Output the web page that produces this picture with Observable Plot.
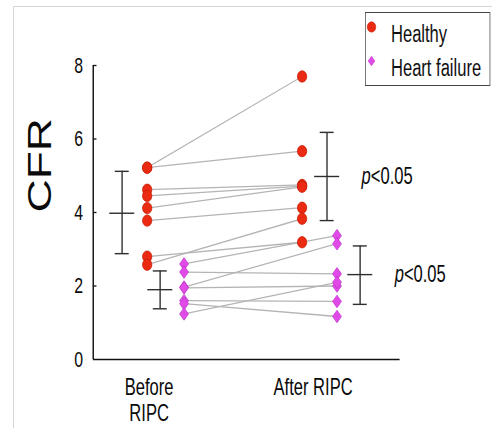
<!DOCTYPE html>
<html><head><meta charset="utf-8">
<script src="https://cdn.jsdelivr.net/npm/d3@7"></script>
<script src="https://cdn.jsdelivr.net/npm/@observablehq/plot@0.6"></script>
<style>
html,body{margin:0;padding:0;background:#fff;}
#page{position:relative;width:492px;height:428px;overflow:hidden;background:#fff;}
#frame{position:absolute;left:13px;top:6px;width:490px;height:430px;border-left:1.5px solid #d6d6d6;border-top:1.5px solid #d6d6d6;}
#stage{position:absolute;left:0;top:0;width:683px;height:428px;transform:scaleX(0.72);transform-origin:0 0;}
#stage svg{position:absolute;left:0;top:0;}
#legend{position:absolute;left:507px;top:12px;width:172px;height:72px;border:1.4px solid #444;background:#fff;font-family:"Liberation Sans",Arial,sans-serif;font-size:23px;color:#111;}
.lrow{position:absolute;left:0;height:30px;line-height:30px;white-space:nowrap;}
.lrow svg{position:absolute;left:8px;top:7px;}
.lrow span{position:absolute;left:35px;top:0;}
</style>
</head><body>
<div id="page">
  <div id="frame"></div>
  <div id="stage"><div id="legend"></div></div>
</div>
<script>
// ---- data ----
const phases = ["Before RIPC", "After RIPC"];
const phaseLabels = ["Before\nRIPC", "After RIPC"];
const groups = ["Healthy", "Heart failure"];
const groupColors = ["#ea2a12", "#e04ae6"];
const groupStrokes = ["#c81e08", "#c232cc"];

const healthyBefore = [5.22, 5.22, 4.62, 4.45, 4.12, 3.78, 2.80, 2.58];
const healthyAfter  = [7.70, 5.67, 4.75, 4.72, 4.70, 4.13, 3.19, 3.83];
const hfBefore = [2.60, 2.38, 1.97, 1.95, 1.60, 1.52, 1.24];
const hfAfter  = [3.37, 2.33, 3.15, 2.00, 1.58, 1.17, 2.10];

// mean and spread bars (Before, After)
const healthyMean = [3.98, 4.98];
const healthyLow  = [2.88, 3.78];
const healthyHigh = [5.12, 6.18];
const hfMean = [1.90, 2.31];
const hfLow  = [1.38, 1.50];
const hfHigh = [2.41, 3.09];

const pLabels = ["p<0.05", "p<0.05"]; // after RIPC, Healthy / Heart failure

const yTicks = [0, 2, 4, 6, 8];

// ---- layout (not data) ----
const SX = 0.72;                 // horizontal squeeze of the original figure
const W = 683, H = 428;
const xDomain = [0.659, 2.53];
const pointOffset = {"Healthy": [-0.012, -0.067], "Heart failure": [0.213, 0.146]};
const barOffset   = {"Healthy": [-0.165, 0.085], "Heart failure": [0.067, 0.287]};
const font = '"Liberation Sans", Arial, Helvetica, sans-serif';

// ---- build tables ----
const pairs = [];
healthyBefore.forEach((v, i) => pairs.push({group: "Healthy", before: v, after: healthyAfter[i]}));
hfBefore.forEach((v, i) => pairs.push({group: "Heart failure", before: v, after: hfAfter[i]}));

const points = [];
pairs.forEach(p => {
  points.push({group: p.group, phase: 0, value: p.before});
  points.push({group: p.group, phase: 1, value: p.after});
});
const px = (g, ph) => ph + 1 + pointOffset[g][ph];

const bars = [];
[0, 1].forEach(ph => {
  bars.push({group: "Healthy", phase: ph, mean: healthyMean[ph], low: healthyLow[ph], high: healthyHigh[ph]});
  bars.push({group: "Heart failure", phase: ph, mean: hfMean[ph], low: hfLow[ph], high: hfHigh[ph]});
});
const bx = d => d.phase + 1 + barOffset[d.group][d.phase];
const pRows = bars.filter(d => d.phase === 1).map((d, i) => ({...d, label: pLabels[i]}));

// custom symbols (pre-squeeze shapes)
const ovalSym = {draw(ctx, size) {
  const r = Math.sqrt(size / Math.PI), rx = r * 1.14, ry = r, k = 0.5523;
  ctx.moveTo(rx, 0);
  ctx.bezierCurveTo(rx, ry * k, rx * k, ry, 0, ry);
  ctx.bezierCurveTo(-rx * k, ry, -rx, ry * k, -rx, 0);
  ctx.bezierCurveTo(-rx, -ry * k, -rx * k, -ry, 0, -ry);
  ctx.bezierCurveTo(rx * k, -ry, rx, -ry * k, rx, 0);
  ctx.closePath();
}};
const diamondSym = {draw(ctx, size) {
  const r = Math.sqrt(size / Math.PI), hw = r * 0.98, hh = r;
  ctx.moveTo(0, -hh); ctx.lineTo(hw, 0); ctx.lineTo(0, hh); ctx.lineTo(-hw, 0); ctx.closePath();
}};
const symFor = {"Healthy": ovalSym, "Heart failure": diamondSym};

const dotMarks = groups.map((g, gi) => Plot.dot(points.filter(d => d.group === g), {
  x: d => px(d.group, d.phase), y: "value",
  symbol: symFor[g], r: g === "Healthy" ? 5.7 : 6.3,
  fill: groupColors[gi], stroke: groupStrokes[gi], strokeWidth: 0.8
}));

const chart = Plot.plot({
  width: W, height: H,
  marginLeft: 129, marginRight: 128, marginTop: 65, marginBottom: 69,
  x: {domain: xDomain, axis: null},
  y: {domain: [0, 8], axis: null},
  style: {fontFamily: font, background: "transparent", color: "#111", overflow: "visible"},
  marks: [
    // axes
    Plot.ruleX([xDomain[0]], {y1: 0, y2: 8, stroke: "#111", strokeWidth: 2}),
    Plot.ruleY([0], {x1: xDomain[0], x2: xDomain[1], stroke: "#111", strokeWidth: 1.6}),
    Plot.ruleY(yTicks.filter(d => d > 0), {y: d => d, x1: xDomain[0], x2: xDomain[0], insetLeft: 0, insetRight: -5, stroke: "#111", strokeWidth: 1.3}),
    Plot.text(yTicks, {x: xDomain[0], y: d => d, text: d => String(d), textAnchor: "end", dx: -14, fontSize: 22, fill: "#0a0a0a"}),
    Plot.text(phaseLabels, {x: (d, i) => i + 1, y: 0, text: d => d, lineAnchor: "top", dy: 18, lineHeight: 1.1, fontSize: 23, fill: "#0a0a0a"}),
    Plot.text(["CFR"], {frameAnchor: "left", dx: -73, rotate: -90, fontSize: 46, fill: "#0a0a0a"}),
    // paired lines
    Plot.link(pairs, {x1: d => px(d.group, 0), y1: "before", x2: d => px(d.group, 1), y2: "after", stroke: "#b4b4b4", strokeWidth: 1.3}),
    // mean ± spread bars
    Plot.ruleX(bars, {x: bx, y1: "low", y2: "high", stroke: "#2e2e2e", strokeWidth: 1.9}),
    Plot.ruleY(bars, {x1: bx, x2: bx, y: "low", insetLeft: -9.7, insetRight: -9.7, stroke: "#2e2e2e", strokeWidth: 1.4}),
    Plot.ruleY(bars, {x1: bx, x2: bx, y: "high", insetLeft: -9.7, insetRight: -9.7, stroke: "#2e2e2e", strokeWidth: 1.4}),
    Plot.ruleY(bars, {x1: bx, x2: bx, y: "mean", insetLeft: -17.4, insetRight: -17.4, stroke: "#2e2e2e", strokeWidth: 1.4}),
    // points
    ...dotMarks,
    // significance labels
    Plot.text(pRows, {x: bx, y: "mean", text: d => d.label.slice(0, 1), fontStyle: "italic", textAnchor: "start", dx: 48, fontSize: 23, fill: "#0a0a0a"}),
    Plot.text(pRows, {x: bx, y: "mean", text: d => d.label.slice(1), textAnchor: "start", dx: 48 + 12.8, fontSize: 23, fill: "#0a0a0a"})
  ]
});
document.getElementById("stage").insertBefore(chart, document.getElementById("legend"));

// legend
const legend = document.getElementById("legend");
groups.forEach((g, gi) => {
  const row = document.createElement("div");
  row.className = "lrow";
  row.style.top = (gi === 0 ? 6 : 40) + "px";
  const s = d3.create("svg").attr("width", 16).attr("height", 16);
  const path = d3.path();
  symFor[g].draw(path, Math.PI * (gi === 0 ? 5.2 : 4.8) ** 2);
  s.append("path").attr("d", path.toString()).attr("transform", "translate(8,8)")
    .attr("fill", groupColors[gi]).attr("stroke", groupStrokes[gi]).attr("stroke-width", 0.6);
  row.appendChild(s.node());
  const sp = document.createElement("span");
  sp.textContent = g;
  row.appendChild(sp);
  legend.appendChild(row);
});
</script>
</body></html>
